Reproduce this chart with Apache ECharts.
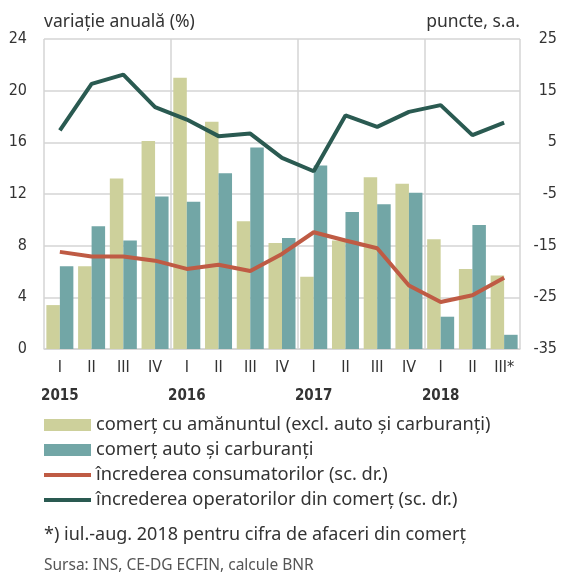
<!DOCTYPE html>
<html>
<head>
<meta charset="utf-8">
<script src="https://cdn.jsdelivr.net/npm/echarts@6/dist/echarts.min.js"></script>
<style>
    html,body{margin:0;padding:0;background:#fff;}
    #chart{width:563px;height:574px;}
</style>
</head>
<body>
<div id="chart"></div>
<script>
    // trimestre
    var quarters = ['I','II','III','IV','I','II','III','IV','I','II','III','IV','I','II','III*'];
    var years = {0:'2015', 4:'2016', 8:'2017', 12:'2018'};
    // variatie anuala (%) - scala stanga
    var retail = [3.4,6.4,13.2,16.1,21.0,17.6,9.9,8.2,5.6,8.4,13.3,12.8,8.5,6.2,5.7];
    var auto = [6.4,9.5,8.4,11.8,11.4,13.6,15.6,8.6,14.2,10.6,11.2,12.1,2.5,9.6,1.1];
    // puncte, s.a. - scala dreapta
    var consumers = [-16.2,-17.1,-17.1,-17.9,-19.5,-18.7,-19.9,-16.6,-12.4,-14.0,-15.5,-22.7,-25.9,-24.6,-21.2];
    var traders = [7.3,16.3,18.1,11.8,9.4,6.2,6.7,2.0,-0.6,10.2,8.0,10.9,12.2,6.4,8.8];

    var names = [
        'comerț cu amănuntul (excl. auto și carburanți)',
        'comerț auto și carburanți',
        'încrederea consumatorilor (sc. dr.)',
        'încrederea operatorilor din comerț (sc. dr.)'
    ];

    var narrow = '"DejaVu Sans Condensed", "Liberation Sans Narrow", sans-serif';
    var txt = '"Noto Sans", sans-serif';
    var lineIcon = 'path://M0,0H47V4H0Z';

    var myChart = echarts.init(document.getElementById('chart'));

    var option = {
        animation: false,
        color: ['#cdd09b', '#72a6a6', '#bf5b44', '#2a5a51'],
        title: [
            {text: 'variație anuală (%)', left: 39, top: 8,
                textStyle: {fontFamily: txt, fontSize: 17.5, fontWeight: 'normal', color: '#333'}},
            {text: 'puncte, s.a.', right: 38, top: 8,
                textStyle: {fontFamily: txt, fontSize: 17.5, fontWeight: 'normal', color: '#333'}},
            {text: '*) iul.-aug. 2018 pentru cifra de afaceri din comerț', left: 39, top: 521,
                textStyle: {fontFamily: txt, fontSize: 18, fontWeight: 'normal', color: '#333'}},
            {text: 'Sursa: INS, CE-DG ECFIN, calcule BNR', left: 39, top: 553,
                textStyle: {fontFamily: txt, fontSize: 15.5, fontWeight: 'normal', color: '#555'}}
        ],
        legend: {
            orient: 'vertical',
            left: 44,
            top: 415,
            padding: 0,
            itemWidth: 47,
            itemHeight: 12,
            itemGap: 5,
            textStyle: {fontFamily: txt, fontSize: 18.3, lineHeight: 20, color: '#333'},
            data: [
                {name: names[0], icon: 'rect'},
                {name: names[1], icon: 'rect'},
                {name: names[2], icon: lineIcon},
                {name: names[3], icon: lineIcon}
            ]
        },
        grid: {left: 44, right: 43, top: 39, bottom: 225},
        xAxis: {
            type: 'category',
            data: quarters,
            axisTick: {show: false},
            axisLine: {lineStyle: {color: '#d5d5d5', width: 1.5}},
            splitLine: {
                show: true,
                interval: function (index) { return index % 4 === 0; },
                lineStyle: {color: '#d5d5d5', width: 1.5}
            },
            axisLabel: {
                margin: 9,
                interval: 0,
                formatter: function (value, index) {
                    if (years[index]) return '{q|' + value + '}\n{y|' + years[index] + '}';
                    return '{q|' + value + '}';
                },
                rich: {
                    q: {fontFamily: narrow, fontSize: 16, color: '#333', lineHeight: 20},
                    y: {fontFamily: narrow, fontSize: 15, fontWeight: 'bold', color: '#333', lineHeight: 36}
                }
            }
        },
        yAxis: [
            {
                type: 'value',
                min: 0, max: 24, interval: 4,
                axisLine: {show: false},
                axisTick: {show: false},
                splitLine: {lineStyle: {color: '#d5d5d5', width: 1.5}},
                axisLabel: {margin: 17, fontFamily: narrow, fontSize: 16, color: '#333'}
            },
            {
                type: 'value',
                min: -35, max: 25, interval: 10,
                axisLine: {show: false},
                axisTick: {show: false},
                splitLine: {show: false},
                axisLabel: {margin: 37, align: 'right', fontFamily: narrow, fontSize: 16, color: '#333'}
            }
        ],
        series: [
            {name: names[0], type: 'bar', data: retail, barWidth: 13.5, barGap: '0%'},
            {name: names[1], type: 'bar', data: auto, barWidth: 13.5, barGap: '0%'},
            {name: names[2], type: 'line', yAxisIndex: 1, data: consumers, symbol: 'none',
                lineStyle: {width: 4}},
            {name: names[3], type: 'line', yAxisIndex: 1, data: traders, symbol: 'none',
                lineStyle: {width: 4}}
        ]
    };

    myChart.setOption(option, true);
</script>
</body>
</html>
